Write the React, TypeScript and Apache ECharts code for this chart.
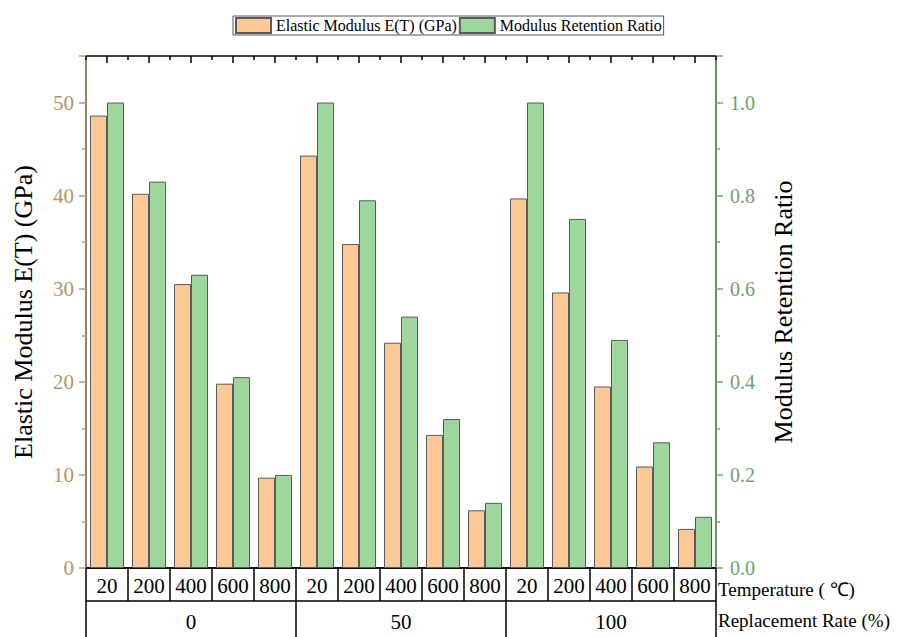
import React, { useEffect, useRef } from "react";
import * as echarts from "echarts";

const replacementRates = ["0", "50", "100"];
const temperatures = ["20", "200", "400", "600", "800"];
const elasticModulus = [48.6, 40.2, 30.5, 19.8, 9.7, 44.3, 34.8, 24.2, 14.3, 6.2, 39.7, 29.6, 19.5, 10.9, 4.2];
const retentionRatio = [1.0, 0.83, 0.63, 0.41, 0.2, 1.0, 0.79, 0.54, 0.32, 0.14, 1.0, 0.75, 0.49, 0.27, 0.11];
const leftTicks = [0, 10, 20, 30, 40, 50];
const rightTicks = [0, 0.2, 0.4, 0.6, 0.8, 1.0];
const leftMax = 55;
const rightMax = 1.1;

const FONT = "'Liberation Serif', 'Times New Roman', serif";
const TAN = "#c09a70";
const TAN_TXT = "#b8926a";
const GREEN = "#7ba77b";
const GREEN_TXT = "#6f9f6f";

export default function App() {
  const ref = useRef<HTMLDivElement>(null);
  useEffect(() => {
    if (!ref.current) return;
    const chart = echarts.init(ref.current, null, { renderer: "svg" });
    const cats: string[] = [];
    replacementRates.forEach((r) => temperatures.forEach((t) => cats.push(r + "|" + t)));
    const topFrameData = cats.map((_, i) => [i, leftMax]);
    chart.setOption({
      animation: false,
      textStyle: { fontFamily: FONT },
      legend: {
        left: 233,
        top: 16,
        orient: "horizontal",
        icon: "rect",
        itemWidth: 35,
        itemHeight: 15,
        itemGap: 2,
        padding: [1, 2],
        borderColor: "#555",
        borderWidth: 1,
        textStyle: { fontFamily: FONT, fontSize: 16, color: "#000" },
        data: ["Elastic Modulus E(T) (GPa)", "Modulus Retention Ratio"],
      },
      grid: {
        left: 86,
        right: 196,
        top: 56,
        bottom: 69,
        containLabel: false,
        show: true,
        borderColor: "#000",
        borderWidth: 1.5,
        backgroundColor: "transparent",
      },
      xAxis: [
        {
          type: "category",
          position: "bottom",
          data: cats,
          axisLine: { show: true, onZero: false, lineStyle: { color: "#000", width: 1.5 } },
          axisTick: { show: true, length: 33, lineStyle: { color: "#000", width: 1.5 } },
          axisLabel: {
            interval: 0,
            margin: 7,
            fontSize: 21,
            color: "#000",
            fontFamily: FONT,
            formatter: (v: string) => v.split("|")[1],
          },
          splitLine: { show: false },
        },
        {
          type: "category",
          position: "bottom",
          offset: 33,
          data: replacementRates,
          axisLine: { show: true, onZero: false, lineStyle: { color: "#000", width: 1.5 } },
          axisTick: { show: true, length: 40, lineStyle: { color: "#000", width: 1.5 } },
          axisLabel: { interval: 0, margin: 10, fontSize: 21, color: "#000", fontFamily: FONT },
          splitLine: { show: false },
        },
      ],
      yAxis: [
        {
          type: "value",
          position: "left",
          min: 0,
          max: leftMax,
          interval: 10,
          name: "Elastic Modulus E(T) (GPa)",
          nameLocation: "middle",
          nameGap: 50,
          nameTextStyle: { fontFamily: FONT, fontSize: 26, color: "#000" },
          axisLine: { show: true, onZero: false, lineStyle: { color: TAN, width: 1.5 } },
          axisTick: { show: true, length: 7, lineStyle: { color: TAN, width: 1.5 } },
          minorTick: { show: true, splitNumber: 2, length: 4, lineStyle: { color: TAN, width: 1.5 } },
          axisLabel: {
            margin: 12,
            fontSize: 21,
            color: TAN_TXT,
            fontFamily: FONT,
            formatter: (v: number) => (leftTicks.indexOf(v) >= 0 ? String(v) : ""),
          },
          splitLine: { show: false },
        },
        {
          type: "value",
          position: "right",
          min: 0,
          max: rightMax,
          interval: 0.2,
          name: "Modulus Retention Ratio",
          nameLocation: "middle",
          nameGap: 54,
          nameTextStyle: { fontFamily: FONT, fontSize: 26, color: "#000" },
          axisLine: { show: true, onZero: false, lineStyle: { color: GREEN, width: 1.5 } },
          axisTick: { show: true, length: 7, lineStyle: { color: GREEN, width: 1.5 } },
          minorTick: { show: true, splitNumber: 2, length: 4, lineStyle: { color: GREEN, width: 1.5 } },
          axisLabel: {
            margin: 14,
            fontSize: 20,
            color: GREEN_TXT,
            fontFamily: FONT,
            formatter: (v: number) =>
              rightTicks.some((t) => Math.abs(t - v) < 1e-6) ? v.toFixed(1) : "",
          },
          splitLine: { show: false },
        },
      ],
      series: [
        {
          name: "Elastic Modulus E(T) (GPa)",
          type: "bar",
          xAxisIndex: 0,
          yAxisIndex: 0,
          data: elasticModulus,
          barGap: "0%",
          barCategoryGap: "19%",
          itemStyle: { color: "#fcc896", borderColor: "#5a5a5a", borderWidth: 1 },
        },
        {
          name: "Modulus Retention Ratio",
          type: "bar",
          xAxisIndex: 0,
          yAxisIndex: 1,
          data: retentionRatio,
          barGap: "0%",
          barCategoryGap: "19%",
          itemStyle: { color: "#9dd79b", borderColor: "#5a5a5a", borderWidth: 1 },
        },
        {
          name: "topFrame",
          type: "custom",
          xAxisIndex: 0,
          yAxisIndex: 0,
          silent: true,
          clip: false,
          z: 10,
          encode: { x: 0, y: 1 },
          data: topFrameData,
          renderItem: (params: any, api: any) => {
            const idx = api.value(0);
            const pt = api.coord([idx, api.value(1)]);
            const bw = api.size([1, 0])[0];
            const x0 = pt[0] - bw / 2;
            const x1 = pt[0] + bw / 2;
            const y = pt[1];
            const st = { fill: "#000" };
            const children: any[] = [
              { type: "rect", shape: { x: pt[0] - 0.75, y: y, width: 1.5, height: 7 }, style: st },
              { type: "rect", shape: { x: x0 - 0.75, y: y, width: 1.5, height: 4 }, style: st },
            ];
            if (idx === cats.length - 1) {
              children.push({ type: "rect", shape: { x: x1 - 0.75, y: y, width: 1.5, height: 4 }, style: st });
            }
            return { type: "group", children };
          },
        },
      ],
      graphic: [
        {
          type: "text",
          left: 718,
          top: 580,
          style: { text: "Temperature ( ℃)", fontSize: 19, fontFamily: FONT, fill: "#000" },
        },
        {
          type: "text",
          left: 718,
          top: 611,
          style: { text: "Replacement Rate (%)", fontSize: 19, fontFamily: FONT, fill: "#000" },
        },
      ],
    });
    return () => chart.dispose();
  }, []);
  return <div ref={ref} style={{ width: 912, height: 637, position: "absolute", left: 0, top: 0 }} />;
}
